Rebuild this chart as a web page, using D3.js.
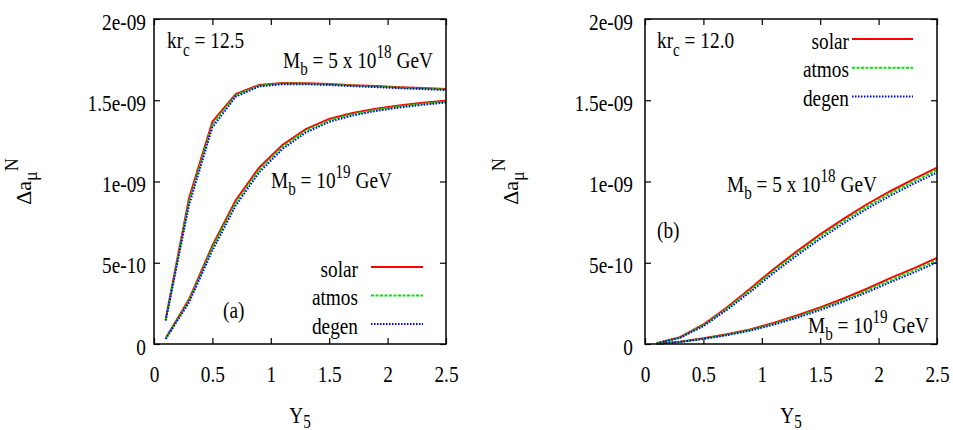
<!DOCTYPE html>
<html>
  <head>
    <meta charset="utf-8">
  </head>
  <body style="margin:0">
    <div id="chart"></div>
    <script src="https://cdn.jsdelivr.net/npm/d3@7"></script>
    <script>

// x values (Y5) shared by every curve
var yukawa = [0.1, 0.3, 0.5, 0.7, 0.9, 1.1, 1.3, 1.5, 1.7, 1.9, 2.1, 2.3, 2.5];

// y values in units of 1e-9
var xTicks = [0, 0.5, 1, 1.5, 2, 2.5];
var xTickLabels = ["0", "0.5", "1", "1.5", "2", "2.5"];
var yTicks = [0, 0.5, 1, 1.5, 2];
var yTickLabels = ["0", "5e-10", "1e-09", "1.5e-09", "2e-09"];
var seriesNames = ["solar", "atmos", "degen"];
var seriesColors = ["#ff0000", "#00e600", "#0000ff"];
var seriesDash = [null, "3,1.5", "1.5,1.5"];

// panel (a), kr_c = 12.5
var a5e18Solar = [0.152, 0.897, 1.368, 1.538, 1.594, 1.606, 1.605, 1.600, 1.593, 1.587, 1.580, 1.575, 1.569];
var a5e18Atmos = [0.148, 0.875, 1.350, 1.530, 1.590, 1.603, 1.602, 1.597, 1.590, 1.584, 1.577, 1.572, 1.566];
var a5e18Degen = [0.144, 0.855, 1.333, 1.522, 1.585, 1.599, 1.599, 1.594, 1.587, 1.581, 1.574, 1.569, 1.563];
var a1e19Solar = [0.035, 0.275, 0.605, 0.885, 1.085, 1.225, 1.322, 1.385, 1.422, 1.448, 1.468, 1.484, 1.497];
var a1e19Atmos = [0.033, 0.265, 0.590, 0.868, 1.070, 1.212, 1.312, 1.376, 1.414, 1.441, 1.461, 1.478, 1.491];
var a1e19Degen = [0.031, 0.256, 0.575, 0.852, 1.056, 1.200, 1.301, 1.367, 1.406, 1.434, 1.455, 1.472, 1.486];

// panel (b), kr_c = 12.0
var b5e18Solar = [0.005, 0.042, 0.120, 0.225, 0.340, 0.460, 0.570, 0.675, 0.770, 0.860, 0.940, 1.015, 1.085];
var b5e18Atmos = [0.005, 0.040, 0.115, 0.217, 0.330, 0.448, 0.557, 0.661, 0.756, 0.846, 0.926, 1.000, 1.070];
var b5e18Degen = [0.004, 0.038, 0.110, 0.209, 0.320, 0.436, 0.544, 0.647, 0.742, 0.832, 0.912, 0.986, 1.055];
var b1e19Solar = [0.002, 0.014, 0.035, 0.060, 0.090, 0.130, 0.175, 0.225, 0.280, 0.340, 0.405, 0.465, 0.530];
var b1e19Atmos = [0.002, 0.013, 0.033, 0.057, 0.086, 0.124, 0.168, 0.217, 0.270, 0.329, 0.392, 0.452, 0.516];
var b1e19Degen = [0.002, 0.012, 0.031, 0.054, 0.082, 0.119, 0.161, 0.209, 0.261, 0.318, 0.380, 0.439, 0.503];

var width = 953, height = 430;
var plotW = 292, plotH = 325;
var fontSize = 23, smallSize = 18;
var squeeze = 0.84; // the original lettering is tall and narrow

var panels = [
  {
    left: 154, top: 19, labelPad: 8, yTitleX: 31,
    kr: "12.5", tag: "(a)",
    curves: [[a5e18Solar, a5e18Atmos, a5e18Degen], [a1e19Solar, a1e19Atmos, a1e19Degen]],
    krPos: [13, 29], tagPos: [69, 299],
    heavyPos: [129, 49], lightPos: [117, 169],
    legend: {textX: 204, lineX0: 217, lineX1: 269, y0: 248, step: 28.5}
  },
  {
    left: 645, top: 19, labelPad: 12, yTitleX: 518,
    kr: "12.0", tag: "(b)",
    curves: [[b5e18Solar, b5e18Atmos, b5e18Degen], [b1e19Solar, b1e19Atmos, b1e19Degen]],
    krPos: [12, 29], tagPos: [12, 219],
    heavyPos: [82, 173], lightPos: [163, 314],
    legend: {textX: 204, lineX0: 207, lineX1: 268, y0: 20, step: 28.7}
  }
];

var svg = d3.select("#chart").append("svg")
    .attr("width", width)
    .attr("height", height);

var x = d3.scaleLinear().domain([0, 2.5]).range([0, plotW]);
var y = d3.scaleLinear().domain([0, 2]).range([plotH, 0]);

var line = d3.line()
    .x(function(d) { return x(d[0]); })
    .y(function(d) { return y(d[1]); });

// text uses the browser's default serif font, narrowed horizontally
function addText(g, px, py) {
  return g.append("text")
    .attr("transform", "translate(" + px + "," + py + ") scale(" + squeeze + ",1)")
    .attr("font-size", fontSize)
    .attr("fill", "#000");
}

function small(t, dy, s) {
  return t.append("tspan").attr("dy", dy).attr("font-size", smallSize).text(s);
}

function massLabel(g, pos, mantissa, exponent) {
  var t = addText(g, pos[0], pos[1]);
  t.append("tspan").text("M");
  small(t, 7, "b");
  t.append("tspan").attr("dy", -7).text(" = " + mantissa + "10");
  small(t, -10, exponent);
  t.append("tspan").attr("dy", 10).text(" GeV");
}

function styleAxis(sel) {
  sel.attr("font-family", null).attr("font-size", fontSize);
  sel.select(".domain").remove();
  sel.selectAll("line").attr("stroke", "#000").attr("stroke-width", 1.2);
  sel.selectAll("text").attr("fill", "#000");
}

panels.forEach(function(p) {
  var g = svg.append("g").attr("transform", "translate(" + p.left + "," + p.top + ")");

  // axes with inward ticks, mirrored on top and right
  g.append("g")
    .attr("transform", "translate(0," + plotH + ")")
    .call(d3.axisBottom(x).tickValues(xTicks).tickSizeInner(-6).tickSizeOuter(0)
      .tickFormat(function(d, i) { return xTickLabels[i]; }))
    .call(styleAxis)
    .selectAll("text")
      .attr("y", 38).attr("dy", 0)
      .attr("transform", "scale(" + squeeze + ",1)");
  g.append("g")
    .call(d3.axisTop(x).tickValues(xTicks).tickSizeInner(-6).tickSizeOuter(0).tickFormat(""))
    .call(styleAxis);
  g.append("g")
    .call(d3.axisLeft(y).tickValues(yTicks).tickSizeInner(-6).tickSizeOuter(0)
      .tickFormat(function(d, i) { return yTickLabels[i]; }))
    .call(styleAxis)
    .selectAll("text")
      .attr("x", -p.labelPad / squeeze).attr("dy", 10)
      .attr("transform", "scale(" + squeeze + ",1)");
  g.append("g")
    .attr("transform", "translate(" + plotW + ",0)")
    .call(d3.axisRight(y).tickValues(yTicks).tickSizeInner(-6).tickSizeOuter(0).tickFormat(""))
    .call(styleAxis);

  // curves
  p.curves.forEach(function(group) {
    group.forEach(function(vals, s) {
      g.append("path")
        .datum(yukawa.map(function(v, i) { return [v, vals[i]]; }))
        .attr("d", line)
        .attr("fill", "none")
        .attr("stroke", seriesColors[s])
        .attr("stroke-width", 2)
        .attr("stroke-dasharray", seriesDash[s]);
    });
  });

  g.append("rect")
    .attr("width", plotW).attr("height", plotH)
    .attr("fill", "none")
    .attr("stroke", "#000")
    .attr("stroke-width", 1.5);

  // kr_c label
  var kr = addText(g, p.krPos[0], p.krPos[1]);
  kr.append("tspan").text("kr");
  small(kr, 8, "c");
  kr.append("tspan").attr("dy", -8).text(" = " + p.kr);

  addText(g, p.tagPos[0], p.tagPos[1]).text(p.tag);

  massLabel(g, p.heavyPos, "5 x ", "18");
  massLabel(g, p.lightPos, "", "19");

  // legend
  seriesNames.forEach(function(name, s) {
    var ly = p.legend.y0 + s * p.legend.step;
    addText(g, p.legend.textX, ly + 9.5)
      .attr("text-anchor", "end")
      .text(name);
    g.append("line")
      .attr("x1", p.legend.lineX0).attr("x2", p.legend.lineX1)
      .attr("y1", ly).attr("y2", ly)
      .attr("stroke", seriesColors[s])
      .attr("stroke-width", 2)
      .attr("stroke-dasharray", seriesDash[s]);
  });

  // axis titles
  var xt = addText(g, plotW / 2, 404).attr("text-anchor", "middle");
  xt.append("tspan").text("Y");
  small(xt, 5, "5");

  var yt = g.append("text")
    .attr("transform", "translate(" + (p.yTitleX - p.left) + "," + (plotH / 2) + ") rotate(-90)")
    .attr("font-size", 22)
    .attr("fill", "#000")
    .attr("text-anchor", "middle");
  yt.append("tspan").text("\u0394a");
  small(yt, 6, "\u03bc");
  small(yt, -19, "N");
});

    </script>
  </body>
</html>
